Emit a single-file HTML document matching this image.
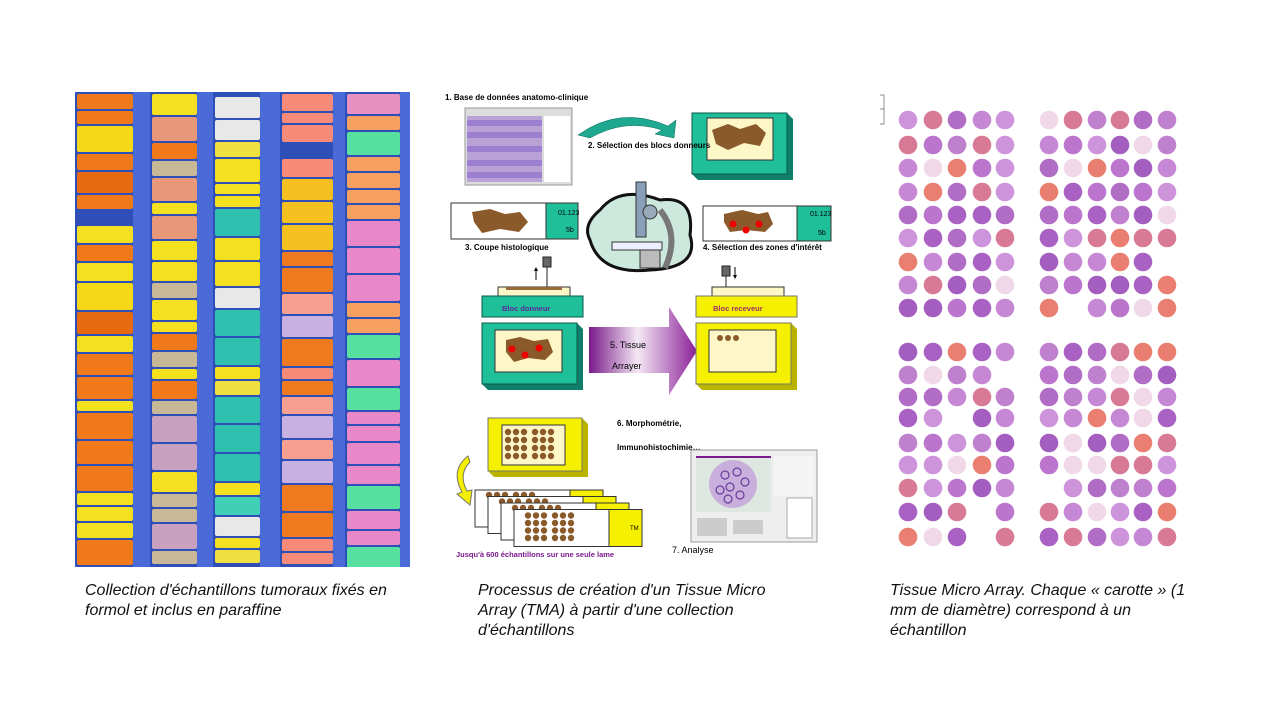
<!DOCTYPE html>
<html><head><meta charset="utf-8">
<style>
html,body{margin:0;padding:0;background:#fff;}
body{width:1280px;height:720px;position:relative;overflow:hidden;font-family:"Liberation Sans",sans-serif;}
.cap{position:absolute;font-style:italic;font-size:16px;line-height:20px;color:#111;}
#photo{position:absolute;left:75px;top:92px;width:335px;height:475px;background:#4a6ad8;overflow:hidden;}
.col{position:absolute;top:0;height:475px;background:#2f4fb8;}
.lab{position:absolute;border-radius:2px;}
svg text{font-family:"Liberation Sans",sans-serif;}
</style></head><body>
<div id="photo"></div>

<svg width="1280" height="720" style="position:absolute;left:0;top:0" xmlns="http://www.w3.org/2000/svg">
<defs>
<linearGradient id="pg" x1="0" x2="1" y1="0" y2="0">
<stop offset="0" stop-color="#7a1a8a"/><stop offset="0.45" stop-color="#f4e8f4"/><stop offset="1" stop-color="#8a2098"/></linearGradient>
</defs>
<text x="445" y="100" font-size="8" font-weight="bold">1. Base de données anatomo-clinique</text>
<rect x="465" y="108" width="107" height="77" fill="#ddd" stroke="#999"/>
<rect x="467" y="116" width="75" height="66" fill="#b9a2d6"/>
<g fill="#9d7fd0"><rect x="467" y="120" width="75" height="6"/><rect x="467" y="132" width="75" height="6"/><rect x="467" y="146" width="75" height="6"/><rect x="467" y="160" width="75" height="6"/><rect x="467" y="172" width="75" height="6"/></g>
<rect x="544" y="116" width="26" height="66" fill="#fff"/>
<path d="M578 135 Q620 105 668 126 L676 120 L674 138 L655 134 L662 130 Q625 118 590 138 Z" fill="#1fa890" stroke="#0c6a5a" stroke-width="0.5"/>
<polygon points="692,113 787,113 793,119 793,180 698,180 692,174" fill="#0f7e6a"/>
<rect x="692" y="113" width="95" height="61" fill="#1fbf9a" stroke="#0a5a4a"/>
<rect x="707" y="118" width="66" height="42" fill="#fdf7c8" stroke="#333"/>
<path d="M712 130 L728 124 L740 129 L756 124 L766 133 L760 146 L744 143 L728 150 L716 144 Z" fill="#8b5a2b"/>
<text x="588" y="148" font-size="8" font-weight="bold">2. Sélection des blocs donneurs</text>
<rect x="451" y="203" width="127" height="36" fill="#fff" stroke="#333"/>
<rect x="546" y="203" width="32" height="36" fill="#1fbf9a" stroke="#333"/>
<text x="558" y="215" font-size="7">01.123</text><text x="566" y="232" font-size="7">5b</text>
<path d="M472 212 L490 209 L505 214 L520 212 L528 222 L519 232 L500 229 L482 233 L474 222 Z" fill="#8b5a2b"/>
<text x="465" y="250" font-size="8" font-weight="bold">3. Coupe histologique</text>
<path d="M600 210 Q620 185 660 200 Q695 195 690 235 Q700 268 650 270 Q600 275 590 240 Q582 225 600 210 Z" fill="#cde8dc" stroke="#111" stroke-width="3"/>
<rect x="636" y="182" width="10" height="55" fill="#8aa0b8" stroke="#333"/>
<circle cx="650" cy="212" r="7" fill="#9ab" stroke="#333"/>
<rect x="612" y="242" width="50" height="8" fill="#eef" stroke="#333"/>
<rect x="640" y="250" width="20" height="18" fill="#bbb" stroke="#333"/>
<path d="M660 210 Q680 235 665 268" fill="none" stroke="#777" stroke-width="6"/>
<rect x="703" y="206" width="128" height="35" fill="#fff" stroke="#333"/>
<rect x="797" y="206" width="34" height="35" fill="#1fbf9a" stroke="#333"/>
<text x="810" y="216" font-size="7">01.123</text><text x="818" y="235" font-size="7">5b</text>
<path d="M724 214 L742 210 L758 214 L768 212 L773 224 L765 232 L746 230 L730 232 L724 222 Z" fill="#8b5a2b"/>
<circle cx="733" cy="224" r="3.5" fill="#e00"/><circle cx="746" cy="230" r="3.5" fill="#e00"/><circle cx="759" cy="224" r="3.5" fill="#e00"/>
<text x="703" y="250" font-size="8" font-weight="bold">4. Sélection des zones d'intérêt</text>
<rect x="543" y="257" width="8" height="10" fill="#666" stroke="#222"/><line x1="547" y1="267" x2="547" y2="289" stroke="#222"/>
<line x1="536" y1="280" x2="536" y2="270" stroke="#000"/><polygon points="534,271 538,271 536,267"/>
<rect x="498" y="287" width="72" height="10" fill="#fdf7c8" stroke="#333"/>
<rect x="506" y="287" width="56" height="3" fill="#9b6a3a"/>
<rect x="482" y="296" width="101" height="21" fill="#1fbf9a" stroke="#0a5a4a"/>
<text x="502" y="311" font-size="7.5" font-weight="bold" fill="#5a2a9a">Bloc donneur</text>
<polygon points="482,323 577,323 583,329 583,390 488,390 482,384" fill="#0f7e6a"/>
<rect x="482" y="323" width="95" height="61" fill="#1fbf9a" stroke="#0a5a4a"/>
<rect x="495" y="330" width="67" height="42" fill="#fdf7c8" stroke="#333"/>
<path d="M506 340 L520 337 L534 341 L548 339 L553 352 L545 360 L528 358 L514 362 L506 352 Z" fill="#8b5a2b"/>
<circle cx="512" cy="349" r="3.5" fill="#e00"/><circle cx="525" cy="355" r="3.5" fill="#e00"/><circle cx="539" cy="348" r="3.5" fill="#e00"/>
<polygon points="589,327 669,327 669,307 697,351 669,395 669,373 589,373" fill="url(#pg)"/>
<text x="610" y="348" font-size="9">5. Tissue</text><text x="612" y="369" font-size="9">Arrayer</text>
<rect x="722" y="266" width="8" height="10" fill="#666" stroke="#222"/><line x1="726" y1="276" x2="726" y2="287" stroke="#222"/>
<line x1="735" y1="267" x2="735" y2="276" stroke="#000"/><polygon points="733,275 737,275 735,279"/>
<rect x="712" y="287" width="72" height="10" fill="#fdf7c8" stroke="#333"/>
<rect x="696" y="296" width="101" height="21" fill="#f4f000" stroke="#776"/>
<text x="713" y="311" font-size="7.5" font-weight="bold" fill="#a0306a">Bloc receveur</text>
<polygon points="696,323 791,323 797,329 797,390 702,390 696,384" fill="#b8b400"/>
<rect x="696" y="323" width="95" height="61" fill="#f4f000" stroke="#776"/>
<rect x="709" y="330" width="67" height="42" fill="#fdf7c8" stroke="#333"/>
<circle cx="720" cy="338" r="3" fill="#8b5a2b"/><circle cx="728" cy="338" r="3" fill="#8b5a2b"/><circle cx="736" cy="338" r="3" fill="#8b5a2b"/>
<polygon points="488,418 582,418 588,424 588,477 494,477 488,471" fill="#b8b400"/>
<rect x="488" y="418" width="94" height="53" fill="#f4f000" stroke="#776"/>
<rect x="502" y="425" width="63" height="40" fill="#fdf7c8" stroke="#333"/>
<g id="bdots" fill="#8b5a2b"></g>
<path d="M468 456 Q450 470 462 492 L457 494 L470 505 L472 490 L467 491 Q458 474 470 462 Z" fill="#f4f000" stroke="#776"/>
<g id="slides"></g>
<text x="456" y="557" font-size="7.5" font-weight="bold" fill="#7a1a8a">Jusqu'à 600 échantillons  sur une seule lame</text>
<text x="617" y="426" font-size="8" font-weight="bold">6. Morphométrie,</text>
<text x="617" y="450" font-size="8" font-weight="bold">Immunohistochimie…</text>
<rect x="691" y="450" width="126" height="92" fill="#eee" stroke="#999"/>
<rect x="696" y="456" width="75" height="56" fill="#dfe8e0"/>
<rect x="696" y="456" width="75" height="2" fill="#7a1a8a"/>
<circle cx="733" cy="484" r="24" fill="#c9b0dc"/>
<g fill="none" stroke="#6a3a9a" stroke-width="1.2"><circle cx="725" cy="475" r="4"/><circle cx="737" cy="472" r="4"/><circle cx="745" cy="482" r="4"/><circle cx="730" cy="487" r="4"/><circle cx="720" cy="490" r="4"/><circle cx="740" cy="495" r="4"/><circle cx="728" cy="499" r="4"/></g>
<rect x="774" y="456" width="40" height="40" fill="#f4f4f4"/>
<rect x="787" y="498" width="25" height="40" fill="#fff" stroke="#aaa"/>
<rect x="697" y="518" width="30" height="18" fill="#ccc"/><rect x="733" y="520" width="30" height="14" fill="#ccc"/>
<text x="672" y="553" font-size="9">7. Analyse</text>
<g stroke="#666" stroke-width="0.7" fill="none"><path d="M880 95 L884 95 L884 124 L880 124 M884 109 L880 109"/></g>
<g id="tma"></g>
</svg>

<div class="cap" style="left:85px;top:581px;width:310px">Collection d'échantillons tumoraux fixés en formol et inclus en paraffine</div>
<div class="cap" style="left:478px;top:581px;width:295px">Processus de création d'un  Tissue Micro Array (TMA) à partir d'une collection d'échantillons</div>
<div class="cap" style="left:890px;top:581px;width:315px">Tissue Micro Array. Chaque « carotte » (1 mm de diamètre) correspond à un échantillon</div>

<script>
var NS="http://www.w3.org/2000/svg";
function el(p,t,a){var e=document.createElementNS(NS,t);for(var k in a)e.setAttribute(k,a[k]);p.appendChild(e);return e;}
var bd=document.getElementById('bdots');
for(var r=0;r<4;r++)for(var c=0;c<6;c++)el(bd,'circle',{cx:508+c*8+(c>2?3:0),cy:432+r*8,r:3.2});
var sl=document.getElementById('slides');
for(var i=0;i<4;i++){var x=475+i*13,y=490+i*6.5;
el(sl,'rect',{x:x,y:y,width:128,height:37,fill:'#fff',stroke:'#333'});
el(sl,'rect',{x:x+95,y:y,width:33,height:37,fill:'#f4f000',stroke:'#333'});
var nr=i==3?4:1;
for(var r=0;r<nr;r++)for(var c=0;c<6;c++)el(sl,'circle',{cx:x+14+c*8+(c>2?3:0),cy:y+5+r*7.5+(i==3?1:0),r:3.2,fill:'#8b5a2b'});}
var tt=el(sl,'text',{x:630,y:530,'font-size':6});tt.textContent='TM';
var g=document.getElementById('tma');
var pal=['#b466c8','#a85cc0','#c07ad0','#9a4cb8','#c888d8','#d46a8a','#e87060','#f0d8e8','#b872c8','#a050bc'];
function blk(xs,ys,seed){for(var r=0;r<ys.length;r++)for(var c=0;c<xs.length;c++){seed=(seed*9301+49297)%233280;var f=seed/233280;
if(f<0.04)continue;var col=pal[Math.floor(f*pal.length)];
el(g,'circle',{cx:xs[c],cy:ys[r],r:9.3,fill:col,opacity:(col=='#f0d8e8'?1:0.9)});}}
var tr=[120,145,168,192,215,238,262,285,308],br=[352,375,397,418,443,465,488,512,537];
blk([908,933,957,982,1005],tr,7);
blk([1049,1073,1097,1120,1143,1167],tr,13);
blk([908,933,957,982,1005],br,29);
blk([1049,1073,1097,1120,1143,1167],br,41);
var ph=document.getElementById('photo');
var cols=[[0,58,['#f5e020','#f07a1a','#f5e020','#e86a10','#f5d818']],[75,122,['#f5e020','#c8b898','#f07a1a','#f5e020','#e89878','#c8a0c0']],
[138,185,['#f5e020','#f0e040','#40d0b8','#e8e8e8','#f5e020','#30c0b0']],[205,258,['#f88a78','#f07a20','#f8a090','#c8b0e0','#f07a20']],
[270,325,['#f07a20','#f5a060','#f8c8b8','#e890c0','#58e0a0','#e888c8']]];
var s=3;
cols.forEach(function(c,ci){var d=document.createElement('div');d.className='col';d.style.left=c[0]+'px';d.style.width=(c[1]-c[0])+'px';ph.appendChild(d);
var y=ci==2?5:2;while(y<470){s=(s*9301+49297)%233280;var f=s/233280;var h=12+Math.floor(f*18);
var col=c[2][Math.floor(f*c[2].length)];
if(ci==4&&y>300)col=(f<0.7)?'#e888c8':'#58e0a0';if(ci==3&&y<150)col=f<0.6?'#f88a78':'#f5c020';if(ci==0&&y>220)col=f<0.6?'#f5e020':'#f07a1a';
if(f>0.96){y+=h/2;continue;}
var l=document.createElement('div');l.className='lab';l.style.left=(c[0]+2)+'px';l.style.width=(c[1]-c[0]-2)+'px';l.style.top=y+'px';l.style.height=(h-2)+'px';l.style.background=col;ph.appendChild(l);y+=h;}
});
</script>
</body></html>
